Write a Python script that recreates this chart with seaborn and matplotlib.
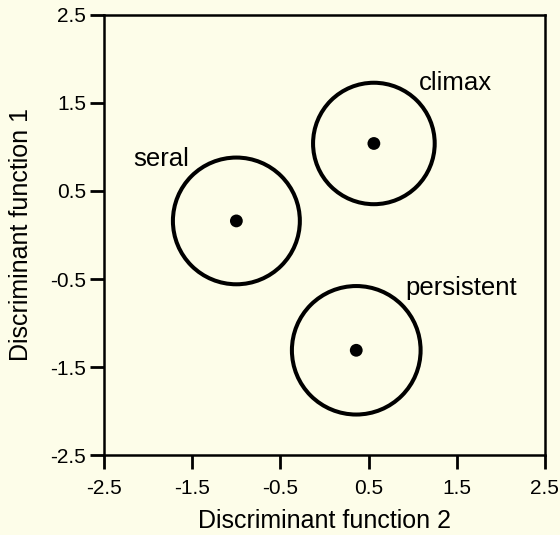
import pandas as pd
import seaborn as sns
import matplotlib.pyplot as plt
from matplotlib.patches import Circle

groups = ["climax", "seral", "persistent"]
df2 = [0.56, -1.0, 0.36]
df1 = [1.04, 0.16, -1.31]
radius = [0.69, 0.72, 0.73]
label_x = [1.48, -1.85, 1.55]
label_y = [1.73, 0.86, -0.60]
ticks = [-2.5, -1.5, -0.5, 0.5, 1.5, 2.5]

df = pd.DataFrame({"group": groups, "x": df2, "y": df1, "r": radius})

sns.set_style("ticks")
plt.rcParams["font.family"] = ["Liberation Sans", "DejaVu Sans"]
plt.rcParams["text.color"] = "black"
plt.rcParams["axes.labelcolor"] = "black"
bg = "#fdfde9"

fig = plt.figure(figsize=(5.6, 5.35), dpi=100, facecolor=bg)
ax = fig.add_axes([0.186, 0.1495, 0.787, 0.8225])
ax.set_facecolor(bg)

sns.scatterplot(data=df, x="x", y="y", color="black", s=85,
                edgecolor="none", ax=ax, zorder=3)

for _, row in df.iterrows():
    ax.add_patch(Circle((row["x"], row["y"]), row["r"], fill=False,
                        edgecolor="black", linewidth=2.9))

for g, lx, ly in zip(groups, label_x, label_y):
    ax.text(lx, ly, g, fontsize=18.5, ha="center", va="center")

ax.set_xlim(-2.5, 2.5)
ax.set_ylim(-2.5, 2.5)
ax.set_xticks(ticks)
ax.set_yticks(ticks)
ax.set_xticklabels([str(t) for t in ticks])
ax.set_yticklabels([str(t) for t in ticks])
ax.tick_params(direction="out", length=10, width=2, labelsize=15,
               colors="black")
ax.tick_params(axis="x", pad=7)
ax.tick_params(axis="y", pad=3)
for s in ax.spines.values():
    s.set_linewidth(1.8)
    s.set_color("black")

ax.set_xlabel("Discriminant function 2", fontsize=18, labelpad=8)
ax.set_ylabel("Discriminant function 1", fontsize=18, labelpad=12)

fig.savefig("out.png", dpi=100, facecolor=bg)
